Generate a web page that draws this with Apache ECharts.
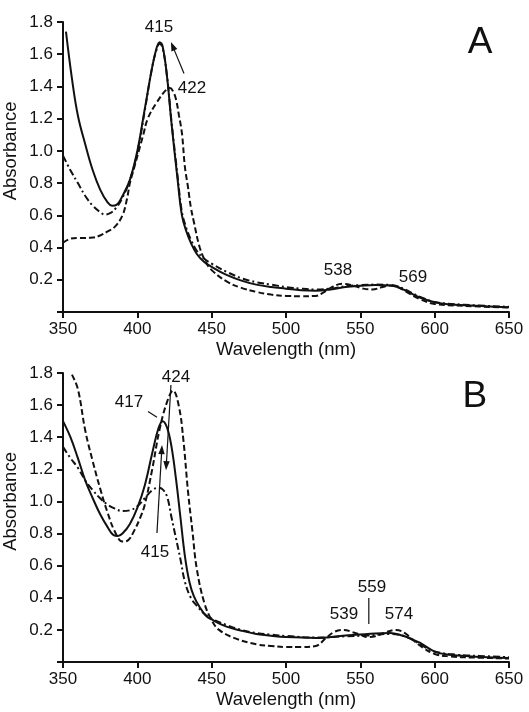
<!DOCTYPE html>
<html>
<head>
<meta charset="utf-8">
<script src="https://cdn.jsdelivr.net/npm/echarts@6/dist/echarts.min.js"></script>
<style>
html,body{margin:0;padding:0;background:#fff;}
#c{width:529px;height:712px;}
</style>
</head>
<body>
<div id="c"></div>
<script>
// ---------- Data (wavelength in nm, absorbance) ----------
var xTicks = [350, 400, 450, 500, 550, 600, 650];
var yTicks = [0.2, 0.4, 0.6, 0.8, 1.0, 1.2, 1.4, 1.6, 1.8];

// Panel A
var A_solid_nm  = [352,356,360,365,370,375,380,383,386,390,395,400,405,410,413,415,417,420,423,427,430,433,436,440,445,450,460,470,480,490,500,510,520,530,540,550,560,570,575,580,590,600,610,620,635,650];
var A_solid_abs = [1.74,1.45,1.22,1.04,0.88,0.76,0.68,0.66,0.665,0.72,0.82,1.0,1.26,1.52,1.64,1.675,1.65,1.46,1.17,0.83,0.6,0.5,0.43,0.36,0.31,0.28,0.23,0.195,0.17,0.155,0.145,0.135,0.132,0.14,0.155,0.163,0.168,0.165,0.155,0.135,0.09,0.06,0.048,0.042,0.035,0.03];

var A_dash_nm  = [350,355,360,365,370,375,380,385,390,393,395,398,401,404,407,413,420,422,424,426,428,430,432,434,436,438,442,446,450,460,470,480,490,500,510,520,525,530,538,545,552,558,565,570,575,580,590,600,620,650];
var A_dash_abs = [0.43,0.455,0.46,0.46,0.462,0.475,0.5,0.53,0.6,0.7,0.8,0.9,1.0,1.1,1.2,1.3,1.385,1.39,1.37,1.32,1.22,1.11,0.9,0.78,0.65,0.56,0.4,0.31,0.26,0.19,0.15,0.125,0.108,0.1,0.098,0.1,0.12,0.15,0.175,0.165,0.145,0.14,0.155,0.165,0.155,0.13,0.08,0.05,0.038,0.028];

var A_dashdot_nm  = [350,355,360,365,370,375,378,382,386,390,395,400,405,410,413,415,417,420,423,427,430,433,436,440,445,450,460,470,480,490,500,510,520,530,540,550,560,570,575,580,590,600,620,650];
var A_dashdot_abs = [0.97,0.88,0.8,0.72,0.66,0.62,0.605,0.615,0.65,0.71,0.82,0.99,1.25,1.52,1.63,1.665,1.64,1.46,1.18,0.85,0.62,0.52,0.45,0.38,0.33,0.3,0.25,0.21,0.185,0.17,0.155,0.145,0.14,0.145,0.16,0.167,0.17,0.168,0.16,0.14,0.095,0.062,0.045,0.032];

// Panel B
var B_solid_nm  = [350,355,360,365,370,375,380,384,387,390,395,400,405,410,414,417,420,423,426,429,432,435,438,442,446,450,460,470,480,490,500,520,540,560,570,578,585,590,600,610,625,650];
var B_solid_abs = [1.5,1.4,1.27,1.13,1.02,0.92,0.84,0.79,0.785,0.8,0.86,0.96,1.1,1.3,1.45,1.5,1.46,1.34,1.14,0.9,0.66,0.5,0.41,0.34,0.29,0.265,0.22,0.195,0.175,0.163,0.155,0.15,0.165,0.178,0.18,0.165,0.14,0.12,0.065,0.045,0.035,0.025];

var B_dash_nm  = [356,360,365,370,375,380,385,390,394,398,402,405,410,415,420,424,428,431,434,437,440,445,450,455,465,480,490,500,510,520,527,533,539,545,550,555,560,567,574,580,585,592,600,610,625,650];
var B_dash_abs = [1.79,1.7,1.44,1.25,1.08,0.93,0.81,0.75,0.76,0.82,0.9,0.98,1.2,1.45,1.62,1.69,1.59,1.38,1.07,0.82,0.58,0.37,0.26,0.2,0.15,0.11,0.1,0.093,0.093,0.1,0.15,0.19,0.2,0.185,0.17,0.155,0.16,0.185,0.2,0.18,0.14,0.09,0.05,0.035,0.028,0.022];

var B_dashdot_nm  = [350,355,360,365,370,375,380,385,390,395,400,405,410,414,417,420,423,426,429,432,436,440,445,450,460,470,480,490,500,520,540,555,570,578,585,592,600,615,630,650];
var B_dashdot_abs = [1.34,1.27,1.21,1.13,1.07,1.02,0.98,0.955,0.94,0.945,0.97,1.02,1.07,1.085,1.075,1.03,0.9,0.77,0.64,0.5,0.4,0.35,0.3,0.27,0.23,0.2,0.18,0.17,0.162,0.152,0.16,0.165,0.175,0.165,0.14,0.1,0.065,0.045,0.038,0.03];

// Annotations (data coordinates)
var A_labels = [
  {t:'415', nm:414.6, v:1.77},
  {t:'422', nm:436.8, v:1.39},
  {t:'538', nm:535.0, v:0.26},
  {t:'569', nm:585.4, v:0.217}
];
var A_arrows = [ {from:[431.4,1.48], to:[422.6,1.676], head:true} ];
var B_labels = [
  {t:'424', nm:426.0, v:1.775},
  {t:'417', nm:394.4, v:1.62},
  {t:'415', nm:411.9, v:0.685},
  {t:'559', nm:557.8, v:0.467},
  {t:'539', nm:539.0, v:0.30},
  {t:'574', nm:576.0, v:0.30}
];
var B_arrows = [
  {from:[407.2,1.56], to:[413.2,1.525], head:false},
  {from:[422.6,1.725], to:[419.3,1.195], head:true},
  {from:[413.2,0.803], to:[416.6,1.351], head:true},
  {from:[555.7,0.398], to:[555.7,0.237], head:false}
];
var panelLetters = [
  {t:'A', grid:0, nm:630.5, v:1.67},
  {t:'B', grid:1, nm:627.0, v:1.65}
];

// ---------- Chart ----------
var FONT = "'Liberation Sans', Arial, sans-serif";
var INK = '#111';
function zip(xs, ys){ return xs.map(function(x,i){ return [x, ys[i]]; }); }

var chart = echarts.init(document.getElementById('c'), null, {renderer:'canvas'});

function xAxisCfg(gi){
  return {
    type:'value', gridIndex:gi, min:350, max:650, interval:50,
    name:'Wavelength (nm)', nameLocation:'middle', nameGap:28,
    nameTextStyle:{fontFamily:FONT, fontSize:18.5, color:INK},
    axisLine:{show:true, onZero:false, lineStyle:{color:INK, width:2}},
    axisTick:{show:true, inside:false, length:6, lineStyle:{color:INK, width:2}},
    axisLabel:{fontFamily:FONT, fontSize:17, color:INK, margin:9},
    splitLine:{show:false}
  };
}
function yAxisCfg(gi){
  return {
    type:'value', gridIndex:gi, min:0, max:1.8, interval:0.2,
    axisLine:{show:true, lineStyle:{color:INK, width:2}},
    axisTick:{show:true, inside:false, length:6, lineStyle:{color:INK, width:2}},
    axisLabel:{fontFamily:FONT, fontSize:17, color:INK, margin:10,
      formatter:function(v){ return Math.abs(v) < 1e-9 ? '' : v.toFixed(1); }},
    splitLine:{show:false}
  };
}
function lineSeries(gi, xs, ys, dash){
  return {
    type:'line', xAxisIndex:gi, yAxisIndex:gi,
    data: zip(xs, ys), smooth:0.4, symbol:'none', clip:true,
    lineStyle:{color:INK, width:2, type:dash},
    z:3
  };
}

chart.setOption({
  animation:false,
  backgroundColor:'#fff',
  grid:[
    {left:63, right:20, top:22, height:290},
    {left:63, right:20, top:373, height:289}
  ],
  xAxis:[xAxisCfg(0), xAxisCfg(1)],
  yAxis:[yAxisCfg(0), yAxisCfg(1)],
  series:[
    lineSeries(0, A_solid_nm, A_solid_abs, 'solid'),
    lineSeries(0, A_dash_nm, A_dash_abs, [6,3]),
    lineSeries(0, A_dashdot_nm, A_dashdot_abs, [7,3,2,3]),
    lineSeries(1, B_solid_nm, B_solid_abs, 'solid'),
    lineSeries(1, B_dash_nm, B_dash_abs, [6,3]),
    lineSeries(1, B_dashdot_nm, B_dashdot_abs, [7,3,2,3])
  ]
});

function px(gi, p){ return chart.convertToPixel({gridIndex:gi}, p); }

var g = [];
function addLabels(gi, arr){
  arr.forEach(function(l){
    var p = px(gi, [l.nm, l.v]);
    g.push({type:'text', x:p[0], y:p[1], z:10,
      style:{text:l.t, fontFamily:FONT, fontSize:17, fill:INK, align:'center', verticalAlign:'middle'}});
  });
}
function addArrows(gi, arr){
  arr.forEach(function(a){
    var p0 = px(gi, a.from), p1 = px(gi, a.to);
    var dx = p1[0]-p0[0], dy = p1[1]-p0[1], L = Math.sqrt(dx*dx+dy*dy);
    var ux = dx/L, uy = dy/L;
    var hl = a.head ? 9 : 0;
    g.push({type:'line', z:10, shape:{x1:p0[0], y1:p0[1], x2:p1[0]-ux*hl*0.8, y2:p1[1]-uy*hl*0.8},
      style:{stroke:INK, lineWidth:1.2}});
    if (a.head){
      var bx = p1[0]-ux*hl, by = p1[1]-uy*hl, w = 3.2;
      g.push({type:'polygon', z:10, shape:{points:[[p1[0],p1[1]],[bx - uy*w, by + ux*w],[bx + uy*w, by - ux*w]]},
        style:{fill:INK}});
    }
  });
}
addLabels(0, A_labels); addArrows(0, A_arrows);
addLabels(1, B_labels); addArrows(1, B_arrows);
panelLetters.forEach(function(l){
  var p = px(l.grid, [l.nm, l.v]);
  g.push({type:'text', x:p[0], y:p[1], z:10,
    style:{text:l.t, fontFamily:FONT, fontSize:37, fill:INK, align:'center', verticalAlign:'middle'}});
});
// Rotated y-axis titles
[0,1].forEach(function(gi){
  var p = px(gi, [350, 1.0]);
  g.push({type:'text', x:11, y:p[1], rotation:Math.PI/2, z:10,
    style:{text:'Absorbance', fontFamily:FONT, fontSize:18.5, fill:INK, align:'center', verticalAlign:'middle'}});
});
chart.setOption({graphic:g});
</script>
</body>
</html>
